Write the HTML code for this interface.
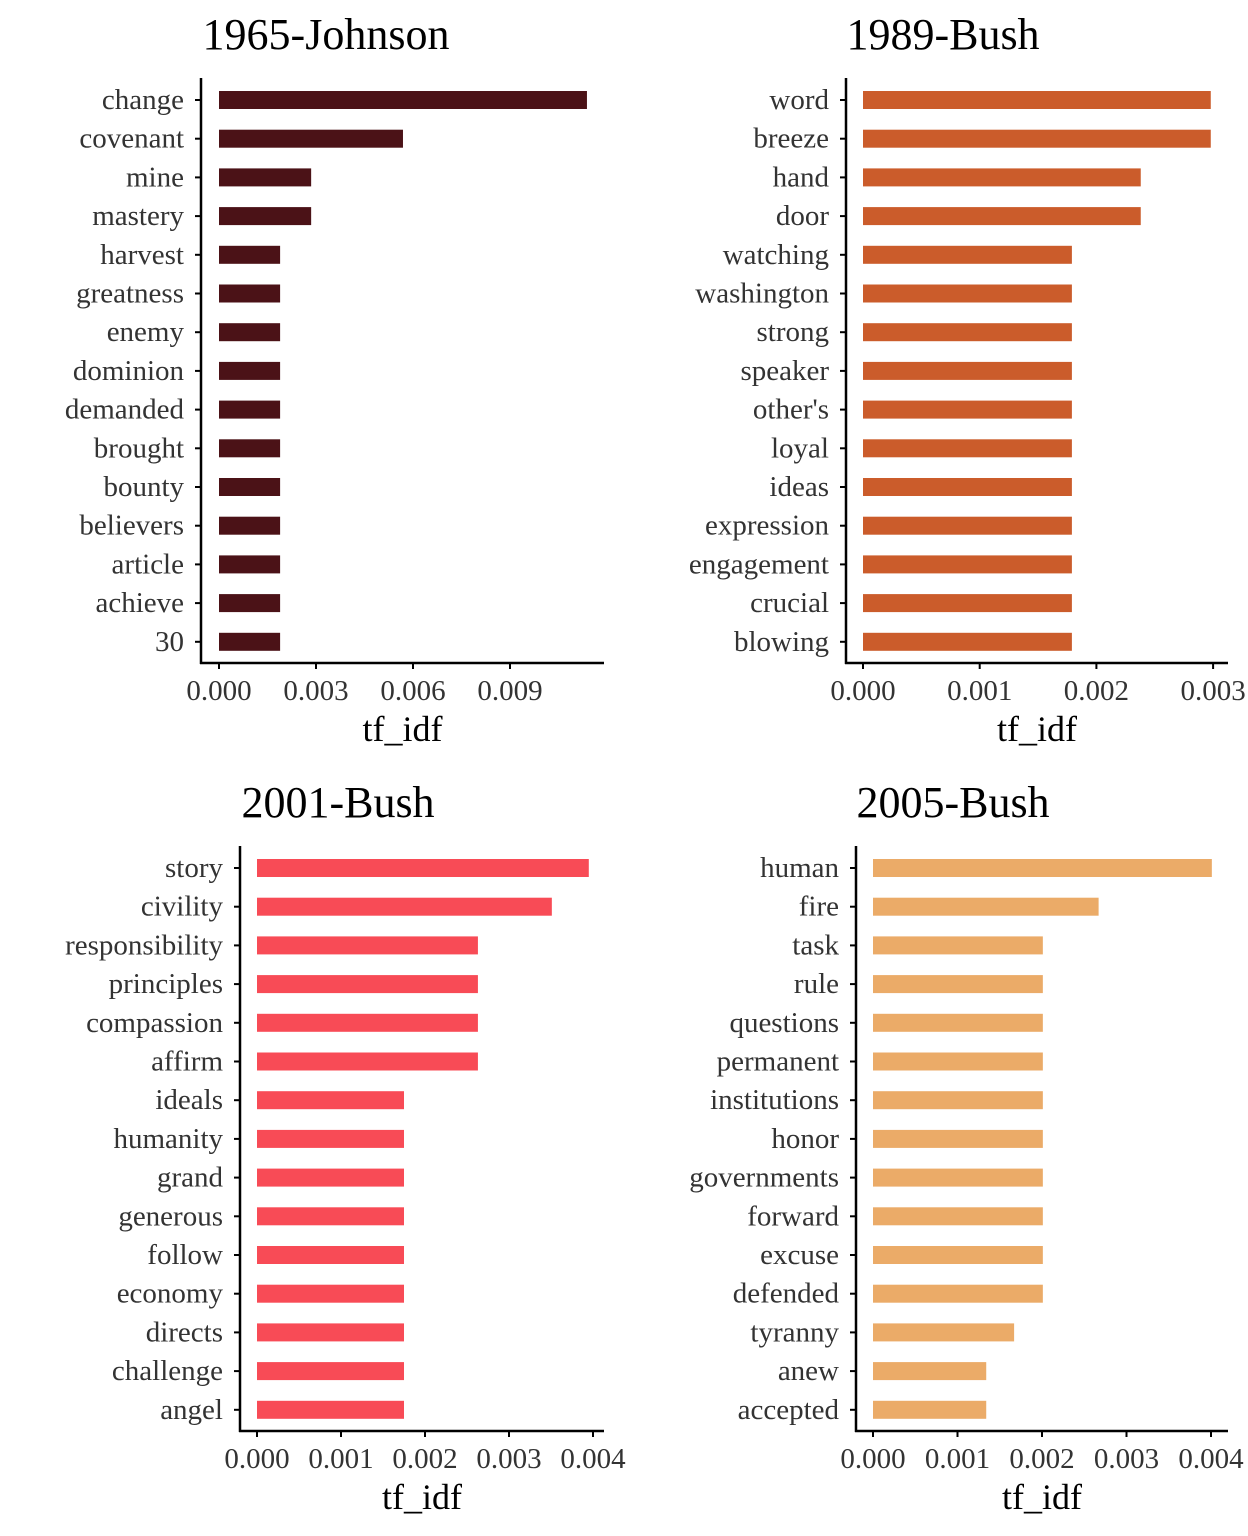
<!DOCTYPE html>
<html><head><meta charset="utf-8"><style>
html,body{margin:0;padding:0;background:#fff;}
svg{display:block;font-family:"Liberation Serif",serif;}
</style></head><body>
<svg id="chart" width="1248" height="1536" viewBox="0 0 1248 1536" xmlns="http://www.w3.org/2000/svg"></svg>
<script>
const words1965 = ["change","covenant","mine","mastery","harvest","greatness","enemy","dominion","demanded","brought","bounty","believers","article","achieve","30"];
const values1965 = [0.01138,0.00569,0.00285,0.00285,0.00189,0.00189,0.00189,0.00189,0.00189,0.00189,0.00189,0.00189,0.00189,0.00189,0.00189];
const ticks1965 = [0,0.003,0.006,0.009];
const tickLabels1965 = ["0.000","0.003","0.006","0.009"];

const words1989 = ["word","breeze","hand","door","watching","washington","strong","speaker","other's","loyal","ideas","expression","engagement","crucial","blowing"];
const values1989 = [0.00298,0.00298,0.00238,0.00238,0.00179,0.00179,0.00179,0.00179,0.00179,0.00179,0.00179,0.00179,0.00179,0.00179,0.00179];
const ticks1989 = [0,0.001,0.002,0.003];
const tickLabels1989 = ["0.000","0.001","0.002","0.003"];

const words2001 = ["story","civility","responsibility","principles","compassion","affirm","ideals","humanity","grand","generous","follow","economy","directs","challenge","angel"];
const values2001 = [0.00395,0.00351,0.00263,0.00263,0.00263,0.00263,0.00175,0.00175,0.00175,0.00175,0.00175,0.00175,0.00175,0.00175,0.00175];
const ticks2001 = [0,0.001,0.002,0.003,0.004];
const tickLabels2001 = ["0.000","0.001","0.002","0.003","0.004"];

const words2005 = ["human","fire","task","rule","questions","permanent","institutions","honor","governments","forward","excuse","defended","tyranny","anew","accepted"];
const values2005 = [0.00401,0.00267,0.00201,0.00201,0.00201,0.00201,0.00201,0.00201,0.00201,0.00201,0.00201,0.00201,0.00167,0.00134,0.00134];
const ticks2005 = [0,0.001,0.002,0.003,0.004];
const tickLabels2005 = ["0.000","0.001","0.002","0.003","0.004"];

const NS = "http://www.w3.org/2000/svg";
const svg = document.getElementById("chart");
function mk(tag, attrs, parent){
  const e = document.createElementNS(NS, tag);
  for (const k in attrs) e.setAttribute(k, attrs[k]);
  (parent||svg).appendChild(e);
  return e;
}
const panels = [
  {id:"1965-johnson", title:"1965-Johnson", titleX:326, top:0, axisX:201, x0:219, pxPer:97/0.003, right:604, color:"#4b1217", words:words1965, values:values1965, ticks:ticks1965, labels:tickLabels1965},
  {id:"1989-bush", title:"1989-Bush", titleX:943, top:0, axisX:846, x0:863, pxPer:116.7/0.001, right:1228, color:"#cb5c2b", words:words1989, values:values1989, ticks:ticks1989, labels:tickLabels1989},
  {id:"2001-bush", title:"2001-Bush", titleX:338, top:768, axisX:240, x0:257, pxPer:84/0.001, right:604, color:"#f84b56", words:words2001, values:values2001, ticks:ticks2001, labels:tickLabels2001},
  {id:"2005-bush", title:"2005-Bush", titleX:953, top:768, axisX:856, x0:873, pxPer:84.5/0.001, right:1228, color:"#ebab68", words:words2005, values:values2005, ticks:ticks2005, labels:tickLabels2005}
];
panels.forEach(p=>{
  const g = mk("g",{});
  
  
  const t0 = p.top;
  const title = mk("text",{x:p.titleX,y:t0+49,"text-anchor":"middle","font-size":44,fill:"#000"},g);
  title.textContent = p.title;
  
  
  const xs = v => p.x0 + v*p.pxPer;
  const rowY = i => t0 + 100 + i*38.7;
  const axisBottom = t0 + 663;
  p.words.forEach((w,i)=>{
    const y = rowY(i);
    const bar = mk("rect",{x:p.x0,y:y-9,width:xs(p.values[i])-p.x0,height:18,fill:p.color},g);
    
    
    const tk = mk("line",{x1:p.axisX-6,x2:p.axisX,y1:y,y2:y,stroke:"#000","stroke-width":2},g);
    
    
    const lb = mk("text",{x:p.axisX-17,y:y+9,"text-anchor":"end","font-size":29,fill:"#333"},g);
    lb.textContent = w;
    
    
  });
  const ya = mk("line",{x1:p.axisX,x2:p.axisX,y1:t0+78,y2:axisBottom+1,stroke:"#000","stroke-width":2.5},g);
  
  
  const xa = mk("line",{x1:p.axisX-1,x2:p.right,y1:axisBottom,y2:axisBottom,stroke:"#000","stroke-width":2.5},g);
  
  
  p.ticks.forEach((v,i)=>{
    const x = xs(v);
    const tk = mk("line",{x1:x,x2:x,y1:axisBottom,y2:axisBottom+6,stroke:"#000","stroke-width":2},g);
    
    
    const lb = mk("text",{x:x,y:axisBottom+37,"text-anchor":"middle","font-size":29,fill:"#333"},g);
    lb.textContent = p.labels[i];
    
    
  });
  const xt = mk("text",{x:(p.axisX+p.right)/2,y:axisBottom+78,"text-anchor":"middle","font-size":36,fill:"#000"},g);
  xt.textContent = "tf_idf";
  
  
});
</script>
</body></html>
